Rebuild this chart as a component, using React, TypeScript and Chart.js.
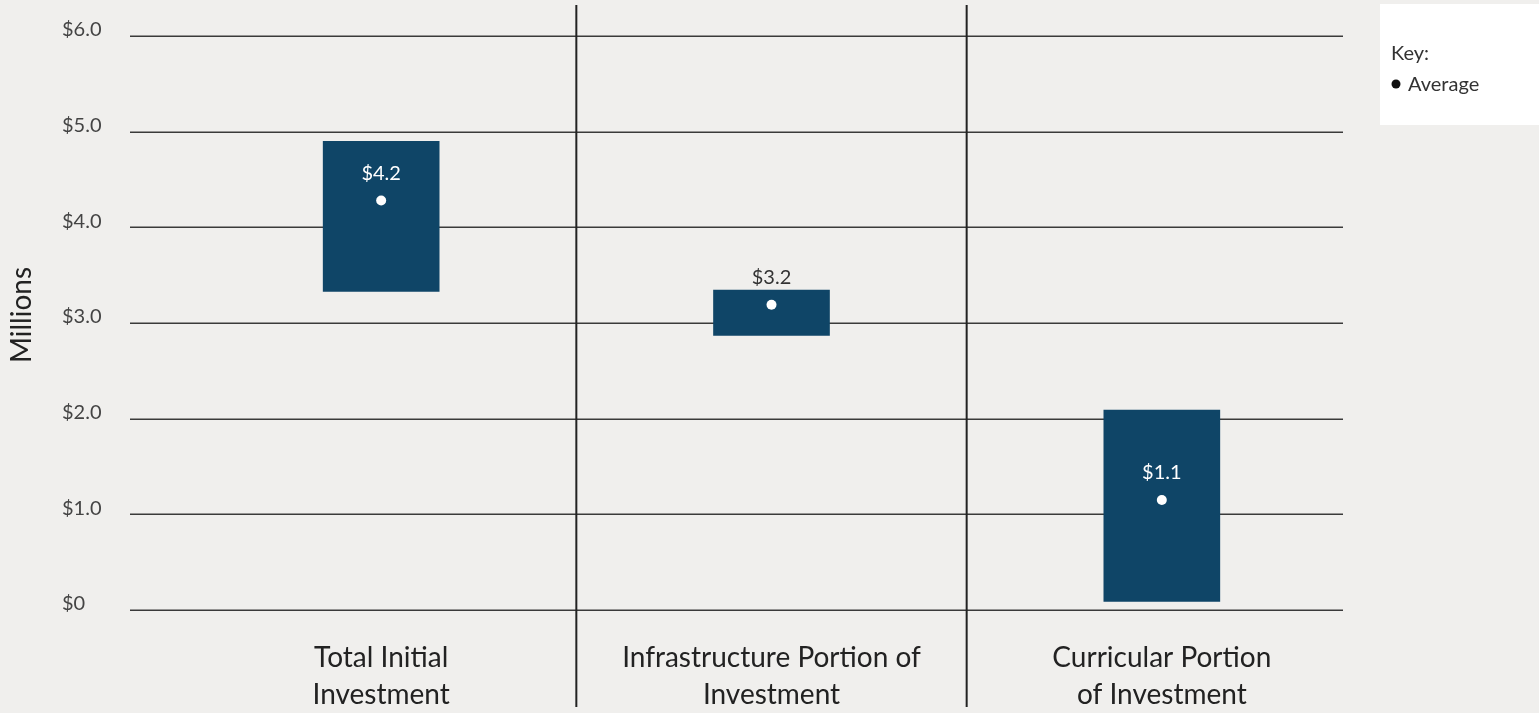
import React, { useEffect, useRef } from "react";
import { Chart, registerables } from "chart.js";

Chart.register(...registerables);

const categories: string[][] = [
  ["Total Initial", "Investment"],
  ["Infrastructure Portion of", "Investment"],
  ["Curricular Portion", "of Investment"],
];
const rangeLow = [3.33, 2.87, 0.09];
const rangeHigh = [4.9, 3.345, 2.09];
const averages = [4.28, 3.19, 1.15];
const averageLabels = ["$4.2", "$3.2", "$1.1"];
const labelInside = [true, false, true];
const yTickValues = [0, 1, 2, 3, 4, 5, 6];
const yTickLabels = ["$0", "$1.0", "$2.0", "$3.0", "$4.0", "$5.0", "$6.0"];
const yTitle = "Millions";
const keyTitle = "Key:";
const keyItem = "Average";

const BG = "#f0efed";
const BAR = "#0f4567";
const FONT = "Lato, 'Noto Sans', sans-serif";

const decorPlugin = {
  id: "decor",
  beforeDraw(chart: any) {
    const ctx = chart.ctx;
    ctx.save();
    ctx.fillStyle = BG;
    ctx.fillRect(0, 0, chart.width, chart.height);
    // key box
    ctx.fillStyle = "#ffffff";
    ctx.fillRect(1380, 4, chart.width - 1380, 121);
    ctx.fillStyle = "#333333";
    ctx.font = `20px ${FONT}`;
    ctx.textBaseline = "middle";
    ctx.textAlign = "left";
    ctx.fillText(keyTitle, 1391, 54);
    ctx.beginPath();
    ctx.arc(1396, 84, 4.5, 0, Math.PI * 2);
    ctx.fillStyle = "#111111";
    ctx.fill();
    ctx.fillStyle = "#333333";
    ctx.fillText(keyItem, 1408, 85);
    // y title
    ctx.save();
    ctx.translate(22, 315);
    ctx.rotate(-Math.PI / 2);
    ctx.textAlign = "center";
    ctx.textBaseline = "middle";
    ctx.font = `28px ${FONT}`;
    ctx.fillStyle = "#222222";
    ctx.fillText(yTitle, 0, 0);
    ctx.restore();
    // gridlines
    const y = chart.scales.y;
    ctx.strokeStyle = "#3a3a3a";
    ctx.lineWidth = 1.5;
    yTickValues.forEach((v) => {
      const py = Math.round(y.getPixelForValue(v)) + 0.25;
      ctx.beginPath();
      ctx.moveTo(130, py);
      ctx.lineTo(1343, py);
      ctx.stroke();
    });
    // separators
    const x = chart.scales.x;
    ctx.strokeStyle = "#222222";
    ctx.lineWidth = 2;
    for (let i = 0; i < categories.length - 1; i++) {
      const px = (x.getPixelForValue(i) + x.getPixelForValue(i + 1)) / 2;
      ctx.beginPath();
      ctx.moveTo(px, 5);
      ctx.lineTo(px, 707);
      ctx.stroke();
    }
    ctx.restore();
  },
  afterDatasetsDraw(chart: any) {
    const ctx = chart.ctx;
    const x = chart.scales.x;
    const y = chart.scales.y;
    ctx.save();
    ctx.font = `20px ${FONT}`;
    ctx.textAlign = "center";
    ctx.textBaseline = "middle";
    averageLabels.forEach((lab, i) => {
      ctx.fillStyle = labelInside[i] ? "#ffffff" : "#333333";
      ctx.fillText(lab, x.getPixelForValue(i), y.getPixelForValue(averages[i]) - 27);
    });
    ctx.restore();
  },
};

export default function App() {
  const ref = useRef<HTMLCanvasElement | null>(null);
  useEffect(() => {
    if (!ref.current) return;
    const chart = new Chart(ref.current, {
      type: "bar",
      data: {
        labels: categories as any,
        datasets: [
          {
            type: "line" as any,
            data: averages,
            showLine: false,
            pointRadius: 5,
            pointBackgroundColor: "#ffffff",
            pointBorderWidth: 0,
            pointBorderColor: "#ffffff",
            order: 0,
          } as any,
          {
            type: "bar",
            data: rangeLow.map((lo, i) => [lo, rangeHigh[i]]) as any,
            backgroundColor: BAR,
            borderWidth: 0,
            barThickness: 116,
            order: 1,
          },
        ],
      },
      options: {
        responsive: false,
        animation: false,
        maintainAspectRatio: false,
        layout: { padding: { left: 62, right: 182, top: 36, bottom: 0 } },
        plugins: { legend: { display: false }, tooltip: { enabled: false } },
        scales: {
          x: {
            offset: true,
            afterFit: (s: any) => {
              s.height = 103;
            },
            grid: { display: false, drawTicks: false },
            border: { display: false },
            ticks: {
              color: "#222222",
              font: { family: FONT, size: 28, lineHeight: 1.3 },
              padding: 30,
              maxRotation: 0,
              autoSkip: false,
            },
          },
          y: {
            min: 0,
            max: 6,
            afterFit: (s: any) => {
              s.width = 124;
            },
            afterBuildTicks: (s: any) => {
              s.ticks = yTickValues.map((v) => ({ value: v }));
            },
            grid: { display: false, drawTicks: false },
            border: { display: false },
            ticks: {
              crossAlign: "far",
              labelOffset: -6,
              padding: 0,
              color: "#444444",
              font: { family: FONT, size: 20 },
              callback: (v: any) => yTickLabels[yTickValues.indexOf(Number(v))] ?? "",
            },
          },
        },
      },
      plugins: [decorPlugin],
    });
    return () => chart.destroy();
  }, []);
  return (
    <div style={{ position: "fixed", left: 0, top: 0, width: 1539, height: 713 }}>
      <canvas ref={ref} width={1539} height={713} />
    </div>
  );
}
